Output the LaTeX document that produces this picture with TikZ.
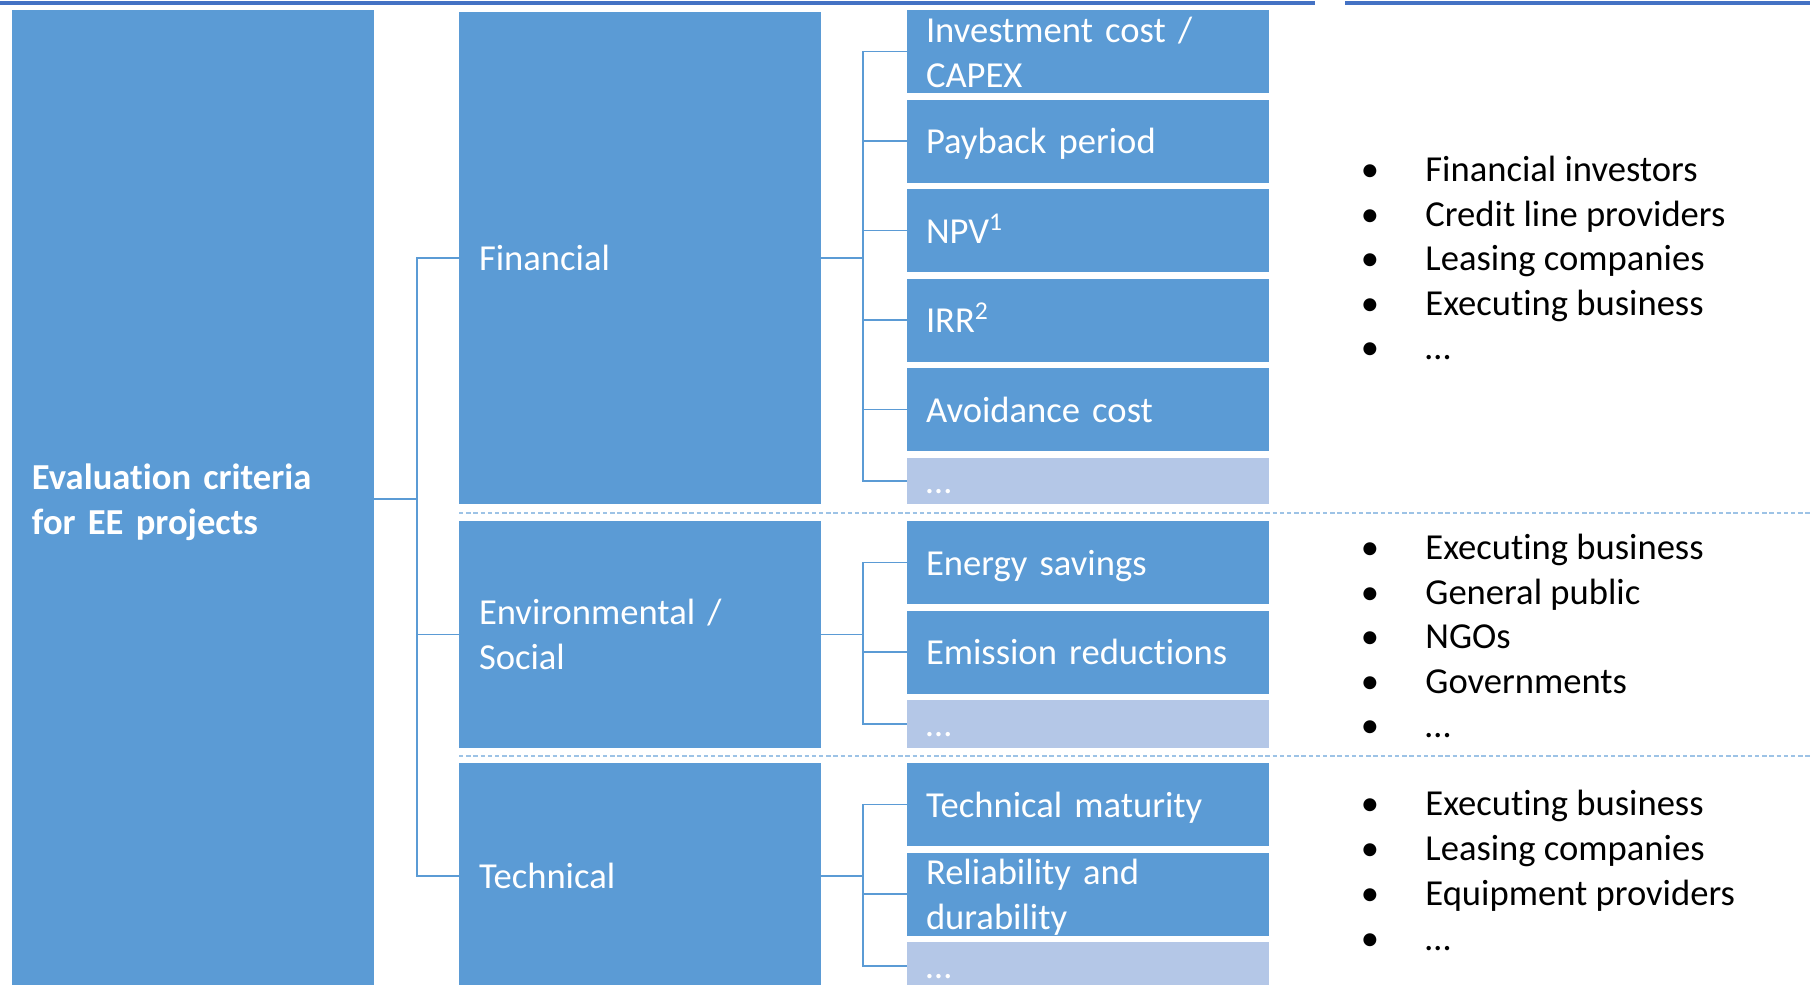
\documentclass[tikz,border=0pt]{standalone}
\usepackage{fontspec}
\setmainfont{Carlito}[Ligatures=NoCommon]
\definecolor{boxblue}{HTML}{5B9BD5}
\definecolor{lightblue}{HTML}{B4C7E7}
\definecolor{topblue}{HTML}{4472C4}
\definecolor{sepblue}{HTML}{9DC3E6}
\newcommand\fs{\fontsize{18.3pt}{22.5pt}\selectfont}
\newcommand\mystrut{\rule[-5pt]{0pt}{22.5pt}}
\tikzset{
  cat/.style={fill=boxblue, text=white, anchor=north west, inner xsep=10pt, inner ysep=0pt,
    text width=161pt, align=left, font=\fs, outer sep=0pt, execute at begin node=\mystrut},
  item/.style={cat, inner xsep=9.5pt, text width=162pt, minimum height=41.5pt},
  twoline/.style={item, text height=16pt, text depth=25.5pt},
  more/.style={item, fill=lightblue},
  conn/.style={draw=boxblue, line width=0.8pt},
  sepline/.style={draw=sepblue, line width=0.9pt, dash pattern=on 2.2pt off 1.4pt},
  bul/.style={anchor=base, inner sep=0pt, font=\fs, text=black},
  lst/.style={anchor=base west, inner sep=0pt, font=\fs, text=black}
}
\begin{document}
\begin{tikzpicture}[x=0.5pt,y=-0.5pt]
\useasboundingbox (0,0) rectangle (1810,985);
\clip (0,0) rectangle (1810,985);
% top rules
\fill[topblue] (0,0.5) rectangle (1315,4.5);
\fill[topblue] (1345,0.5) rectangle (1810,4.5);
% separators
\draw[sepline] (459,513) -- (1810,513);
\draw[sepline] (459,756) -- (1810,756);
% root
\node[cat, minimum height=489pt] (root) at (12,10) {\textbf{Evaluation criteria}\\\mystrut\textbf{for EE projects}};
% categories
\node[cat, minimum height=246pt] (fin) at (459,12) {Financial};
\node[cat, minimum height=113.5pt] (env) at (459,521) {Environmental /\\\mystrut Social};
\node[cat, minimum height=113pt] (tec) at (459,763) {Technical};
% financial items
\node[twoline] (f1) at (907,10) {Investment cost /\\CAPEX};
\node[item] (f2) at (907,99.5) {Payback period};
\node[item] (f3) at (907,189) {NPV\textsuperscript{1}};
\node[item] (f4) at (907,278.5) {IRR\textsuperscript{2}};
\node[item] (f5) at (907,368) {Avoidance cost};
\node[more, minimum height=23.25pt] (f6) at (907,457.5) {…};
% env items
\node[item] (e1) at (907,521) {Energy savings};
\node[item] (e2) at (907,610.5) {Emission reductions};
\node[more, minimum height=24pt] (e3) at (907,700) {…};
% tech items
\node[item] (t1) at (907,763) {Technical maturity};
\node[twoline] (t2) at (907,852.5) {Reliability and\\durability};
\node[more, minimum height=24pt] (t3) at (907,942) {…};
% connectors root -> categories
\coordinate (b0) at (417,499);
\draw[conn] (root.east) -- (b0);
\draw[conn] (b0) |- (fin.west);
\draw[conn] (b0) |- (tec.west);
\draw[conn] (b0 |- env.west) -- (env.west);
% financial
\coordinate (bf) at (863,258);
\draw[conn] (fin.east) -- (bf);
\draw[conn] (bf) |- (f1.west);
\draw[conn] (bf) |- (f6.west);
\foreach \n in {f2,f3,f4,f5} \draw[conn] (bf |- \n.west) -- (\n.west);
% env
\coordinate (be) at (863,634.5);
\draw[conn] (env.east) -- (be);
\draw[conn] (be) |- (e1.west);
\draw[conn] (be) |- (e3.west);
\draw[conn] (be |- e2.west) -- (e2.west);
% tech
\coordinate (bt) at (863,876);
\draw[conn] (tec.east) -- (bt);
\draw[conn] (bt) |- (t1.west);
\draw[conn] (bt) |- (t3.west);
\draw[conn] (bt |- t2.west) -- (t2.west);
% bullet lists
\foreach \y/\t [count=\i] in {181.5/Financial investors, 226/Credit line providers, 270.5/Leasing companies, 315/Executing business, 359.5/…} {
  \node[bul] (fb\i) at (1370,\y) {•};
  \node[lst] (fl\i) at (1425,\y) {\t};
}
\foreach \y/\t [count=\i] in {559/Executing business, 604/General public, 648.5/NGOs, 693/Governments, 737.5/…} {
  \node[bul] (eb\i) at (1370,\y) {•};
  \node[lst] (el\i) at (1425,\y) {\t};
}
\foreach \y/\t [count=\i] in {815/Executing business, 860/Leasing companies, 905/Equipment providers, 950/…} {
  \node[bul] (tb\i) at (1370,\y) {•};
  \node[lst] (tl\i) at (1425,\y) {\t};
}
\end{tikzpicture}
\end{document}
